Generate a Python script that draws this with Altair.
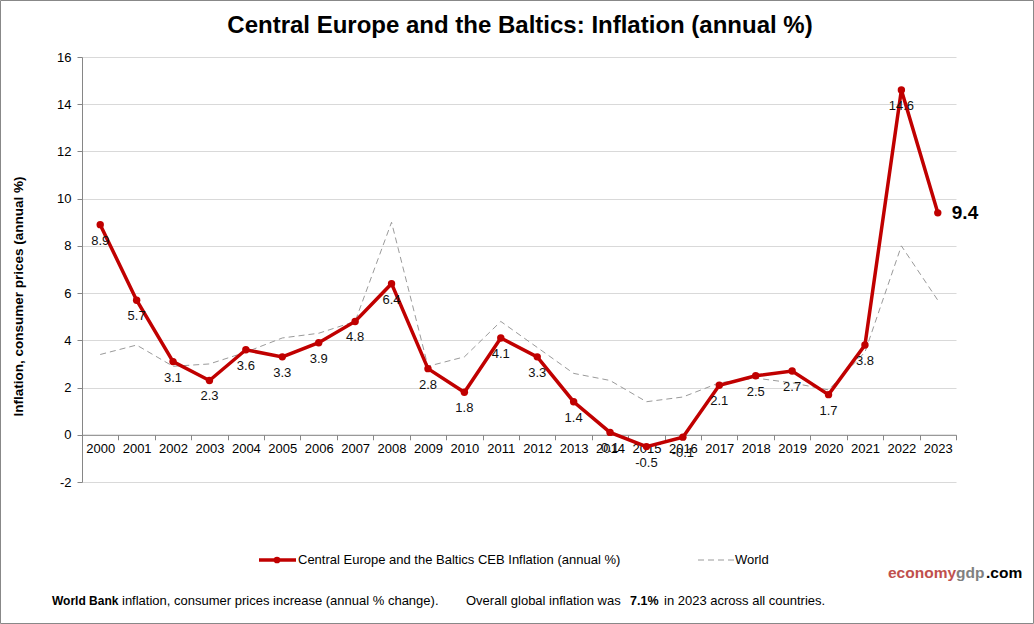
import altair as alt
import pandas as pd

years = [str(y) for y in range(2000, 2024)]
ceb = [8.9, 5.7, 3.1, 2.3, 3.6, 3.3, 3.9, 4.8, 6.4, 2.8, 1.8, 4.1, 3.3, 1.4,
       0.1, -0.5, -0.1, 2.1, 2.5, 2.7, 1.7, 3.8, 14.6, 9.4]
world = [3.4, 3.8, 2.9, 3.0, 3.5, 4.1, 4.3, 4.8, 9.0, 2.9, 3.3, 4.8, 3.7, 2.6,
         2.3, 1.4, 1.6, 2.2, 2.4, 2.2, 1.9, 3.5, 8.0, 5.7]
y_ticks = list(range(-2, 17, 2))

title_text = "Central Europe and the Baltics: Inflation (annual %)"
y_title = "Inflation, consumer prices (annual %)"
legend_ceb = "Central Europe and the Baltics CEB Inflation (annual %)"
legend_world = "World"

RED = "#c00000"
GRAY = "#9a9a9a"
AX = "#868686"
FONT = "Liberation Sans"

W, H = 874, 425
L, T = 82, 57

df = pd.DataFrame({"year": years, "ceb": ceb, "world": world})
df["lbl"] = [f"{v:.1f}" for v in ceb]

xenc = alt.X("year:O", sort=None, bandPosition=0.5,
             scale=alt.Scale(type="band", paddingInner=0, paddingOuter=0),
             axis=alt.Axis(orient="bottom", offset=-(H * 2 / 18), labelAngle=0,
                           tickBand="extent", domainColor=AX, tickColor=AX,
                           tickSize=5, labelFontSize=13, labelPadding=3,
                           labelColor="black", labelFont=FONT, title=None,
                           grid=False))
yscale = alt.Scale(domain=[-2, 16], nice=False)
yenc = alt.Y("ceb:Q", scale=yscale,
             axis=alt.Axis(values=y_ticks, grid=True, gridColor="#d9d9d9",
                           domainColor=AX, tickColor=AX, tickSize=5,
                           labelPadding=6, labelFontSize=13, labelColor="black",
                           labelFont=FONT, labelExpr="'' + datum.value",
                           title=y_title, titleFont=FONT,
                           titleFontSize=13.5, titleFontWeight="bold",
                           titleColor="black", titleAngle=270, titleX=-64,
                           titleY=239, titleAlign="center",
                           titleBaseline="middle"))

base = alt.Chart(df)

world_line = base.mark_line(color=GRAY, strokeWidth=1, strokeDash=[6, 4]).encode(
    x=xenc, y=alt.Y("world:Q", scale=yscale))
ceb_line = base.mark_line(color=RED, strokeWidth=3.5).encode(x=xenc, y=yenc)
ceb_pts = base.mark_circle(color=RED, size=55, opacity=1).encode(x=xenc, y=yenc)
labels = base.transform_filter(alt.datum.year != "2023").mark_text(
    fontSize=13, font=FONT, color="#111", baseline="middle", dy=16).encode(
    x=xenc, y=yenc, text="lbl:N")
last_lbl = base.transform_filter(alt.datum.year == "2023").mark_text(
    fontSize=19, font=FONT, fontWeight="bold", color="black", align="left",
    baseline="middle", dx=14).encode(x=xenc, y=yenc, text="lbl:N")


def annot(text, x, y, **kw):
    props = dict(align="left", baseline="middle", font=FONT, fontSize=13,
                 color="black")
    props.update(kw)
    return alt.Chart(pd.DataFrame({"t": [text]})).mark_text(**props).encode(
        text="t:N", x=alt.value(x - L), y=alt.value(y - T))


one = pd.DataFrame({"a": [0]})
border = alt.Chart(one).mark_rect(fill=None, stroke="#888", strokeWidth=1).encode(
    x=alt.value(0.5 - L), x2=alt.value(1033.5 - L),
    y=alt.value(0.5 - T), y2=alt.value(623.5 - T))
leg_red = alt.Chart(one).mark_rule(color=RED, strokeWidth=3.5).encode(
    x=alt.value(259 - L), x2=alt.value(296 - L), y=alt.value(560 - T))
leg_dot = alt.Chart(one).mark_circle(color=RED, size=45, opacity=1).encode(
    x=alt.value(277 - L), y=alt.value(560 - T))
leg_gray = alt.Chart(one).mark_rule(color=GRAY, strokeWidth=1, strokeDash=[6, 4]).encode(
    x=alt.value(698 - L), x2=alt.value(734 - L), y=alt.value(560 - T))

texts = [
    annot(title_text, 520, 26, align="center", fontSize=24, fontWeight="bold"),
    annot(legend_ceb, 298, 560),
    annot(legend_world, 735, 560),
    annot("economy", 888, 573, fontSize=15.5, fontWeight="bold", color="#c0504d"),
    annot("gdp", 956, 573, fontSize=15.5, fontWeight="bold", color="#808080"),
    annot(".com", 986, 573, fontSize=15.5, fontWeight="bold", color="black"),
    annot("World Bank", 52, 601, fontSize=12, fontWeight="bold"),
    annot("inflation, consumer prices increase (annual  % change).", 122, 601),
    annot("Overall  global inflation was", 466, 601),
    annot("7.1%", 630, 601, fontSize=12.5, fontWeight="bold"),
    annot("in 2023 across all countries.", 664, 601),
]

chart = alt.layer(
    border, world_line, ceb_line, ceb_pts, labels, last_lbl,
    leg_red, leg_dot, leg_gray, *texts
).properties(
    width=W, height=H, autosize="none",
    padding={"left": L, "top": T, "right": 1034 - L - W, "bottom": 624 - T - H},
    background="white",
).configure_view(stroke=None)

chart.save("out.html", embed_options={"renderer": "svg", "actions": False})
